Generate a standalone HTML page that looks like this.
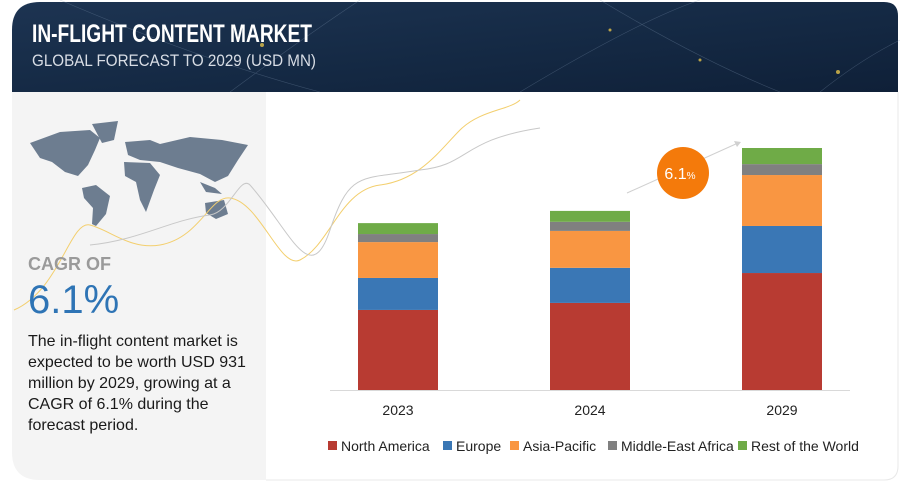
<!DOCTYPE html>
<html><head><meta charset="utf-8"><style>
html,body{margin:0;padding:0;background:#fff;}
body{width:900px;height:481px;position:relative;overflow:hidden;font-family:"Liberation Sans",sans-serif;}
</style></head><body>
<svg width="900" height="481" xmlns="http://www.w3.org/2000/svg" style="position:absolute;left:0;top:0">
<defs>
<linearGradient id="hg" x1="0" y1="0" x2="1" y2="1">
<stop offset="0" stop-color="#1d3452"/><stop offset="0.5" stop-color="#152a45"/><stop offset="1" stop-color="#0f2038"/></linearGradient>
</defs>
<path d="M12,92 L12,30 Q12,2 40,2 L884,2 Q898,2 898,16 L898,92 Z" fill="url(#hg)"/>
<g stroke="#7f95b0" stroke-width="0.6" opacity="0.35" fill="none">
<path d="M60,0 Q200,60 320,92"/><path d="M230,92 Q300,40 360,0"/><path d="M520,92 Q640,20 700,0"/><path d="M820,92 Q860,60 900,40"/><path d="M600,0 Q700,60 780,92"/></g>
<g fill="#e3c24a" opacity="0.8"><circle cx="262" cy="45" r="2"/><circle cx="838" cy="72" r="2"/><circle cx="610" cy="30" r="1.5"/><circle cx="700" cy="60" r="1.5"/></g>
<text x="32" y="42" fill="#fff" font-size="25" font-weight="bold" textLength="280" lengthAdjust="spacingAndGlyphs">IN-FLIGHT CONTENT MARKET</text>
<text x="32" y="66" fill="#d8dde5" font-size="17" textLength="284" lengthAdjust="spacingAndGlyphs">GLOBAL FORECAST TO 2029 (USD MN)</text>
<path d="M12,92 L266,92 L266,480 L40,480 Q12,480 12,452 Z" fill="#f4f4f4"/>
<path d="M898,92 L898,466 Q898,480 884,480 L266,480" fill="none" stroke="#e8e8e8"/>
<g fill="#6d7d90">
<path d="M30,143 L60,132 L90,130 L100,138 L95,150 L88,165 L78,176 L65,172 L52,162 L40,158 Z"/>
<path d="M92,124 L118,121 L114,140 L102,143 Z"/>
<path d="M82,188 L96,185 L110,196 L106,214 L96,226 L92,224 L93,208 L84,198 Z"/>
<path d="M125,142 L150,140 L160,144 L190,137 L222,140 L248,145 L238,160 L228,176 L215,182 L200,174 L178,168 L160,162 L140,160 L128,155 Z"/>
<path d="M124,162 L150,163 L160,175 L154,190 L146,212 L140,200 L136,182 L125,176 Z"/>
<path d="M205,203 L224,200 L228,214 L216,219 L206,213 Z"/>
<path d="M200,182 L215,188 L222,194 L206,192 Z"/>
</g>
<path d="M14,310 C60,290 70,220 90,225 C110,230 130,250 160,245 C200,238 210,195 230,198 C260,202 280,270 300,260 C330,245 340,190 380,185 C420,180 440,150 460,130 C480,110 510,110 520,100" fill="none" stroke="#f3cf6e" stroke-width="1"/>
<path d="M90,245 C140,240 170,220 210,215 C230,212 240,175 250,185 C290,230 310,290 330,230 C350,170 360,180 420,170 C470,165 460,140 540,128" fill="none" stroke="#c8c8c8" stroke-width="1"/>
<text x="28" y="270" fill="#9a9a9a" font-size="18" font-weight="bold">CAGR OF</text>
<text x="28" y="313" fill="#2e74b5" font-size="40">6.1%</text>
<g font-size="16" fill="#1a1a1a">
<text x="28" y="346">The in-flight content market is</text>
<text x="28" y="367">expected to be worth USD 931</text>
<text x="28" y="388">million by 2029, growing at a</text>
<text x="28" y="409">CAGR of 6.1% during the</text>
<text x="28" y="430">forecast period.</text>
</g>
<line x1="330" y1="390.5" x2="850" y2="390.5" stroke="#d9d9d9"/>
<g id="bars"></g>
<line x1="627" y1="193" x2="738" y2="143" stroke="#d0d0d0" stroke-width="1"/>
<path d="M741,142 L734,141 L737,147 Z" fill="#d0d0d0"/>
<circle cx="683" cy="173" r="26" fill="#f47a0b"/>
<text x="680" y="179" fill="#fff" font-size="16" text-anchor="middle">6.1<tspan font-size="10">%</tspan></text>
<g id="xlabels" font-size="14" fill="#222" text-anchor="middle"></g>
<g id="legend" font-size="14" fill="#222"></g>
</svg>
<script>
const categories = ["2023","2024","2029"];
const seriesNames = ["North America","Europe","Asia-Pacific","Middle-East Africa","Rest of the World"];
const northAmerica = [308,335,450];
const europe = [123,135,181];
const asiaPacific = [138,142,196];
const middleEastAfrica = [31,35,42];
const restOfWorld = [42,42,62];
const colors = ["#b83b32","#3a77b5","#f99642","#808080","#6fab47"];
const series = [northAmerica,europe,asiaPacific,middleEastAfrica,restOfWorld];
const NS="http://www.w3.org/2000/svg";
const baseY=390, pxPerUnit=242/931;
function yScale(v){return baseY - v*pxPerUnit;}
function xScale(i){return 358 + i*192;}
const barW=80;
const bars=document.getElementById('bars');
categories.forEach((c,i)=>{
  let cum=0;
  series.forEach((s,k)=>{
    const y0=yScale(cum), y1=yScale(cum+s[i]);
    const r=document.createElementNS(NS,'rect');
    r.setAttribute('x',xScale(i));r.setAttribute('y',y1);
    r.setAttribute('width',barW);r.setAttribute('height',y0-y1);
    r.setAttribute('fill',colors[k]);
    
    
    bars.appendChild(r);
    cum+=s[i];
  });
  const t=document.createElementNS(NS,'text');
  t.setAttribute('x',xScale(i)+barW/2);t.setAttribute('y',415);
  t.textContent=c;
  
  
  document.getElementById('xlabels').appendChild(t);
});
const legendX=[328,443,510,608,738];
const lg=document.getElementById('legend');
seriesNames.forEach((n,k)=>{
  const g=document.createElementNS(NS,'g');
  
  
  const r=document.createElementNS(NS,'rect');
  r.setAttribute('x',legendX[k]);r.setAttribute('y',441);r.setAttribute('width',9);r.setAttribute('height',9);r.setAttribute('fill',colors[k]);
  const t=document.createElementNS(NS,'text');
  t.setAttribute('x',legendX[k]+13);t.setAttribute('y',451);t.textContent=n;
  g.appendChild(r);g.appendChild(t);lg.appendChild(g);
});
</script>
</body></html>
